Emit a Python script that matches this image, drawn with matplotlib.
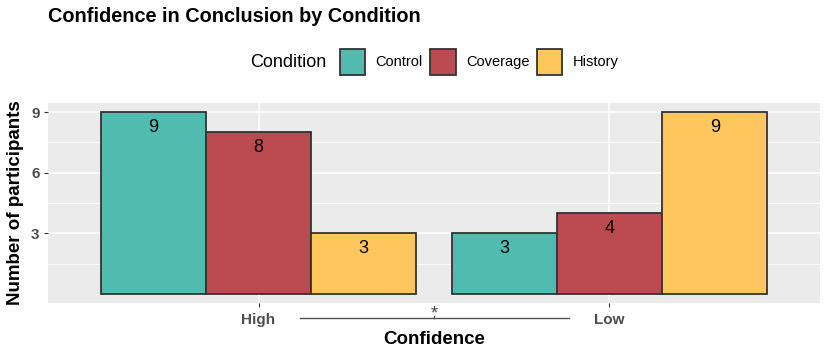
import matplotlib
matplotlib.use("Agg")
import matplotlib.pyplot as plt
import numpy as np
from matplotlib.patches import Patch
from matplotlib.offsetbox import HPacker

plt.rcParams['font.family'] = ['Liberation Sans', 'DejaVu Sans']

categories = ["High", "Low"]
conditions = ["Control", "Coverage", "History"]
values = {
    "Control": [9, 3],
    "Coverage": [8, 4],
    "History": [3, 9],
}
colors = {"Control": "#51BBAF", "Coverage": "#BB4B51", "History": "#FFC65D"}
yticks = [3, 6, 9]

W, H = 830, 356
fig = plt.figure(figsize=(W / 100, H / 100), dpi=100)
ax = fig.add_axes([48 / W, (H - 303) / H, (820 - 48) / W, (303 - 103) / H])
ax.set_facecolor("#EBEBEB")

x = np.arange(1, len(categories) + 1)
bw = 0.3
for i, c in enumerate(conditions):
    xs = x + (i - 1) * bw
    ax.bar(xs, values[c], width=bw, color=colors[c], edgecolor="#333333",
           linewidth=1.3, zorder=3)
    for xi, v in zip(xs, values[c]):
        ax.text(xi, v - 0.33, str(v), ha="center", va="top", fontsize=13,
                color="black", zorder=4)

ax.set_xlim(0.4, 2.6)
ax.set_ylim(-0.45, 9.45)
ax.set_yticks(yticks)
ax.set_yticks([1.5, 4.5, 7.5], minor=True)
ax.set_xticks(x)
ax.set_xticklabels(categories)
ax.grid(True, which="major", color="white", linewidth=1.1, zorder=0)
ax.grid(True, which="minor", axis="y", color="white", linewidth=0.55, zorder=0)
for s in ax.spines.values():
    s.set_visible(False)
ax.tick_params(axis="both", which="major", length=3, color="#333333",
               labelcolor="#4D4D4D", labelsize=11)
ax.tick_params(axis="y", which="minor", length=0)
for lab in ax.get_xticklabels() + ax.get_yticklabels():
    lab.set_fontweight("bold")
ax.tick_params(axis="x", pad=4)
ax.tick_params(axis="y", pad=3)

ax.set_xlabel("Confidence", fontsize=13.5, fontweight="bold", labelpad=3)
ax.set_ylabel("Number of participants", fontsize=13.5, fontweight="bold", labelpad=5)

# significance bracket below axis
yb = -1.19
ax.plot([1.119, 1.884], [yb, yb], color="#555555", linewidth=1.0, clip_on=False)
ax.plot([1.5, 1.5], [yb, yb + 0.12], color="#555555", linewidth=1.0, clip_on=False)
ax.text(1.5, yb - 0.2, "*", ha="center", va="bottom", fontsize=13,
        color="#444444", clip_on=False)

fig.text(48 / W, 1 - 17 / H, "Confidence in Conclusion by Condition",
         fontsize=14.3, fontweight="bold", va="center", ha="left")

handles = [Patch(facecolor=colors[c], edgecolor="#333333", linewidth=1.3, label=c)
           for c in conditions]
leg = fig.legend(handles=handles, title="Condition", loc="center",
                 bbox_to_anchor=(434 / W, 1 - 62 / H), ncol=3, frameon=False,
                 fontsize=10.5, title_fontsize=13, handlelength=1.75,
                 handleheight=2.4, handletextpad=0.7, columnspacing=0.5)
title_box = leg._legend_title_box
handle_box = leg._legend_handle_box
leg._legend_box._children = [HPacker(pad=0, sep=10, children=[title_box, handle_box], align="center")]

fig.savefig("out.png", dpi=100)
